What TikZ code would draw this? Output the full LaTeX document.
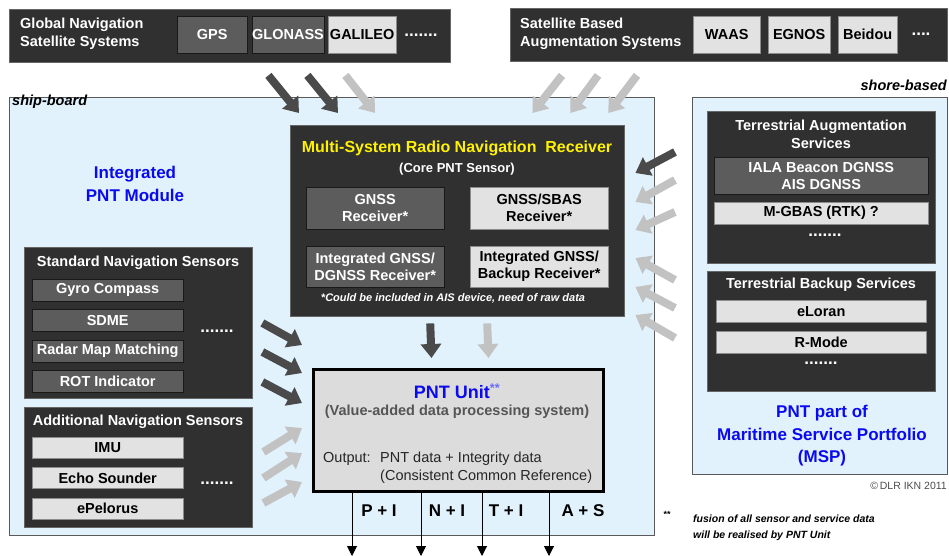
\documentclass[tikz,border=0pt]{standalone}
\usepackage{fontspec}
\setmainfont{Liberation Sans}
\usepackage{tikz}
\usetikzlibrary{shapes,arrows.meta,positioning,calc}

\definecolor{panelgrey}{HTML}{303030}
\definecolor{cellgrey}{HTML}{5C5C5C}
\definecolor{cellwhite}{HTML}{E2E2E2}
\definecolor{skyblue}{HTML}{E1F2FD}
\definecolor{unitgrey}{HTML}{DCDCDC}
\definecolor{arrowdark}{HTML}{4A4A4A}
\definecolor{arrowlight}{HTML}{C2C2C2}
\definecolor{pntblue}{HTML}{0A0AF0}
\definecolor{starblue}{HTML}{6A6AFF}
\definecolor{notegrey}{HTML}{555555}

\tikzstyle{zone} = [rectangle, draw=black!65, fill=skyblue, inner sep=0pt, anchor=north west]
\tikzstyle{panel} = [rectangle, draw=black!60, fill=panelgrey, inner sep=0pt, anchor=north west]
\tikzstyle{midcell} = [rectangle, draw=black!90, fill=cellgrey, text=white, inner sep=0pt,
    anchor=north west, align=center, font=\fontsize{14.5}{17}\selectfont\bfseries]
\tikzstyle{lightcell} = [rectangle, draw=black!45, fill=cellwhite, text=black, inner sep=0pt,
    anchor=north west, align=center, font=\fontsize{14.5}{17}\selectfont\bfseries]
\tikzstyle{paneltext} = [text=white, inner sep=0pt, align=center, font=\fontsize{14.5}{18}\selectfont\bfseries]
\tikzstyle{dotrow} = [text=white, inner sep=0pt, anchor=base, font=\fontsize{17}{18}\selectfont\bfseries]
\tikzstyle{bluetext} = [text=pntblue, inner sep=0pt, align=center, font=\fontsize{17}{22.5}\selectfont\bfseries]
\tikzstyle{fatdark} = [draw=arrowdark, line width=8pt, -{Triangle[width=20pt,length=14pt]}]
\tikzstyle{fatlight} = [draw=arrowlight, line width=8pt, -{Triangle[width=20pt,length=14pt]}]
\tikzstyle{outputline} = [draw, line width=1pt, -{Triangle[width=10pt,length=10pt]}]

\begin{document}
\begin{tikzpicture}[x=1pt, y=-1pt]
    \useasboundingbox (0,0) rectangle (949,556);

    % Zones
    \node [zone, minimum width=645, minimum height=438] (ship) at (9,97) {};
    \node [zone, minimum width=255, minimum height=377] (shore) at (692,97) {};
    \node [anchor=base west, inner sep=0pt, font=\fontsize{14.5}{17}\selectfont\bfseries\itshape] (shiptag) at (12,106) {ship-board};
    \node [anchor=base east, inner sep=0pt, font=\fontsize{14.5}{17}\selectfont\bfseries\itshape] (shoretag) at (947,91) {shore-based};
    \node [bluetext] (modulelabel) at (135,184) {Integrated\\PNT Module};

    % Satellite systems
    \node [panel, minimum width=441, minimum height=53] (gnssbar) at (9,9) {};
    \node [paneltext, anchor=west, align=left] (gnsslabel) at (20,34) {Global Navigation\\Satellite Systems};
    \node [midcell, minimum width=70, minimum height=37] (gps) at (177,16) {GPS};
    \node [midcell, minimum width=71, minimum height=37] (glonass) at (252,16) {GLONASS};
    \node [lightcell, minimum width=68, minimum height=37] (galileo) at (328,16) {GALILEO};
    \node [dotrow] (gnssmore) at (421,37) {.......};

    \node [panel, minimum width=437, minimum height=53] (sbasbar) at (510,8) {};
    \node [paneltext, anchor=west, align=left] (sbaslabel) at (520,34) {Satellite Based\\Augmentation Systems};
    \node [lightcell, minimum width=67, minimum height=37] (waas) at (693,16) {WAAS};
    \node [lightcell, minimum width=62, minimum height=37] (egnos) at (768,16) {EGNOS};
    \node [lightcell, minimum width=59, minimum height=37] (beidou) at (838,16) {Beidou};
    \node [dotrow] (sbasmore) at (921,36) {....};

    % Receiver
    \node [panel, minimum width=334, minimum height=191] (receiver) at (290,125) {};
    \node [text=yellow, inner sep=0pt, font=\fontsize{16}{19}\selectfont\bfseries] (rxtitle) at (457,148) {Multi-System Radio Navigation\ \ Receiver};
    \node [paneltext, font=\fontsize{13}{16}\selectfont\bfseries] (rxsub) at (457,169) {(Core PNT Sensor)};
    \node [midcell, minimum width=138, minimum height=42] (gnssrx) at (306,187) {GNSS\\Receiver*};
    \node [lightcell, minimum width=138, minimum height=42] (sbasrx) at (470,187) {GNSS/SBAS\\Receiver*};
    \node [midcell, minimum width=138, minimum height=41] (dgnssrx) at (306,246) {Integrated GNSS/\\DGNSS Receiver*};
    \node [lightcell, minimum width=138, minimum height=41] (backuprx) at (470,246) {Integrated GNSS/\\Backup Receiver*};
    \node [paneltext, font=\fontsize{11}{13}\selectfont\bfseries\itshape] (rxnote) at (453,298) {*Could be included in AIS device, need of raw data};

    % Sensors
    \node [panel, minimum width=228, minimum height=151] (stdsens) at (24,247) {};
    \node [paneltext] (stdtitle) at (138,263) {Standard Navigation Sensors};
    \node [midcell, minimum width=151, minimum height=22] (gyro) at (32,279) {Gyro Compass};
    \node [midcell, minimum width=151, minimum height=22, below=8pt of gyro] (sdme) {SDME};
    \node [midcell, minimum width=151, minimum height=22, below=8pt of sdme] (radar) {Radar Map Matching};
    \node [midcell, minimum width=151, minimum height=22, below=8pt of radar] (rot) {ROT Indicator};
    \node [dotrow] (stdmore) at (217,332) {.......};

    \node [panel, minimum width=228, minimum height=120] (addsens) at (24,407) {};
    \node [paneltext] (addtitle) at (138,422) {Additional Navigation Sensors};
    \node [lightcell, minimum width=151, minimum height=21] (imu) at (32,437) {IMU};
    \node [lightcell, minimum width=151, minimum height=21, below=9pt of imu] (echo) {Echo Sounder};
    \node [lightcell, minimum width=151, minimum height=21, below=9pt of echo] (epelorus) {ePelorus};
    \node [dotrow] (addmore) at (217,484) {.......};

    % PNT unit
    \node [rectangle, draw=black, line width=3pt, fill=unitgrey, anchor=north west, inner sep=0pt,
        minimum width=290, minimum height=122] (pnt) at (312,368) {};
    \node [text=pntblue, inner sep=0pt, font=\fontsize{18}{21}\selectfont\bfseries] (pnttitle) at (457,391) {PNT Unit\textcolor{starblue}{\textsuperscript{**}}};
    \node [text=notegrey, inner sep=0pt, font=\fontsize{14.5}{17}\selectfont\bfseries] (pntsub) at (457,412) {(Value-added data processing system)};
    \node [text=black!85, anchor=base west, inner sep=0pt, font=\fontsize{14.5}{17}\selectfont] (pntout) at (323,462) {Output:};
    \node [text=black!85, anchor=base west, inner sep=0pt, font=\fontsize{14.5}{17}\selectfont] (pntdata) at (380,462) {PNT data + Integrity data};
    \node [text=black!85, anchor=base west, inner sep=0pt, font=\fontsize{14.5}{17}\selectfont] (pntref) at (380,480) {(Consistent Common Reference)};

    % Shore-based services
    \node [panel, minimum width=228, minimum height=152] (augpanel) at (707,111) {};
    \node [paneltext] (augtitle) at (821,134) {Terrestrial Augmentation\\Services};
    \node [midcell, minimum width=214, minimum height=37] (iala) at (714,157) {IALA Beacon DGNSS\\AIS DGNSS};
    \node [lightcell, minimum width=214, minimum height=22] (mgbas) at (714,202) {M-GBAS (RTK) ?};
    \node [dotrow] (augmore) at (825,236) {.......};

    \node [panel, minimum width=228, minimum height=120] (backpanel) at (707,271) {};
    \node [paneltext] (backtitle) at (821,285) {Terrestrial Backup Services};
    \node [lightcell, minimum width=210, minimum height=22] (eloran) at (716,300) {eLoran};
    \node [lightcell, minimum width=210, minimum height=22, below=9pt of eloran] (rmode) {R-Mode};
    \node [dotrow] (backmore) at (821,364) {.......};

    \node [bluetext] (msplabel) at (822,436) {PNT part of\\Maritime Service Portfolio\\(MSP)};
    \node [text=black!70, anchor=east, inner sep=0pt, font=\fontsize{10.5}{12}\selectfont] (copyright) at (947,486) {\textcopyright\,DLR IKN 2011};

    % Footnote
    \node [inner sep=0pt, font=\fontsize{9}{10}\selectfont\bfseries] (starmark) at (667,514) {**};
    \node [anchor=north west, align=left, inner sep=0pt, font=\fontsize{10.5}{16}\selectfont\bfseries\itshape] (fusionnote) at (693,515) {fusion of all sensor and service data\\will be realised by PNT Unit};

    % Edges
    \foreach \dx/\tx in {-182/9, -143/48}
        \draw [fatdark] ($(gnssbar.south east)+(\dx,13)$) -- ($(receiver.north west)+(\tx,-12)$);
    \draw [fatlight] ($(gnssbar.south east)+(-105,13)$) -- ($(receiver.north west)+(85,-12)$);
    \foreach \dx/\tx in {52/-92, 88/-54, 127/-16}
        \draw [fatlight] ($(sbasbar.south west)+(\dx,14)$) -- ($(receiver.north east)+(\tx,-12)$);

    \foreach \ty/\hy in {76/-23, 105/5, 135/35}
        \draw [fatdark] ($(stdsens.north east)+(10,\ty)$) -- ($(pnt.north west)+(-10,\hy)$);
    \foreach \ty/\hy in {45/60, 71/85, 96/114}
        \draw [fatlight] ($(addsens.north east)+(11,\ty)$) -- ($(pnt.north west)+(-10,\hy)$);

    \draw [fatdark] ($(shore.north west)+(-17,55)$) -- ($(receiver.north east)+(11,48)$);
    \foreach \ty/\hy in {83/77, 115/105, 183/133, 211/162, 241/190}
        \draw [fatlight] ($(shore.north west)+(-17,\ty)$) -- ($(receiver.north east)+(11,\hy)$);

    \draw [fatdark] ($(receiver.south)+(-27,7)$) -- ($(pnt.north)+(-27,-10)$);
    \draw [fatlight] ($(receiver.south)+(30,7)$) -- ($(pnt.north)+(30,-10)$);

    \foreach \x/\lx/\txt/\id in {352/379/P + I/pi, 421/447/N + I/ni, 482/506/T + I/ti, 549/583/A + S/as} {
        \coordinate (out\id) at (\x,556);
        \draw [outputline] (pnt.south -| out\id) -- (out\id);
        \node [inner sep=0pt, font=\fontsize{17}{20}\selectfont\bfseries] (lab\id) at (\lx,511) {\txt};
    }
\end{tikzpicture}
\end{document}
